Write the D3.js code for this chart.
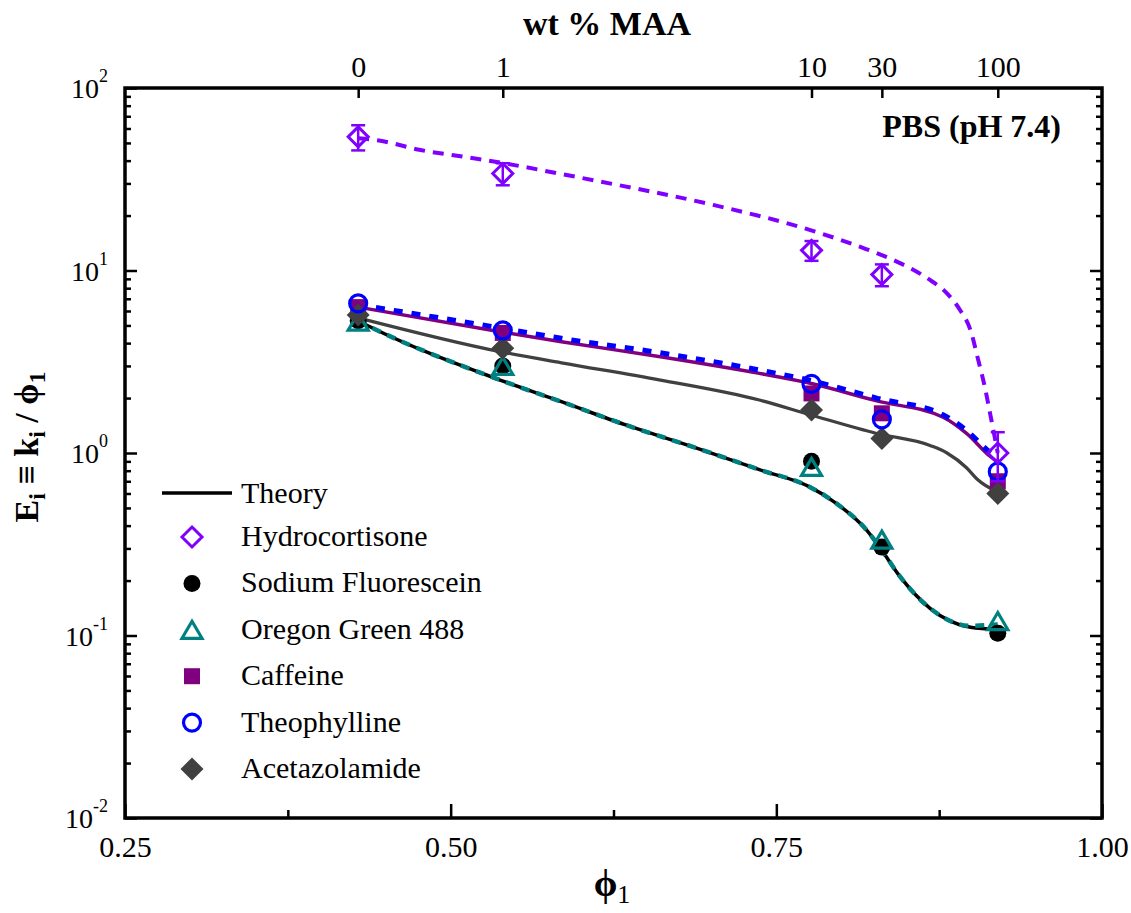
<!DOCTYPE html>
<html>
<head>
<meta charset="utf-8">
<script src="https://cdn.jsdelivr.net/npm/d3@7"></script>
<style>
  html, body { margin: 0; padding: 0; background: #fff; }
  svg { display: block; }
  svg text { font-family: "Liberation Serif", "Times New Roman", serif; }
</style>
</head>
<body>
<svg id="chart" width="1131" height="913"></svg>
<script>
// Volume fraction of water (phi_1) for each hydrogel composition
const phi = [0.429, 0.540, 0.777, 0.831, 0.920];
// Matching methacrylic acid contents (top axis)
const maaLabels = ["0", "1", "10", "30", "100"];

// Measured enhancement factors E_i = k_i / phi_1
const hydrocortisone    = [54, 34, 12.9, 9.5, 1.0];
const hydrocortisoneErr = [8.5, 4.7, 1.6, 1.3, 0.3];
const sodiumFluorescein = [5.3, 3.0, 0.90, 0.305, 0.103];
const oregonGreen       = [5.25, 3.0, 0.84, 0.335, 0.12];
const caffeine          = [6.3, 4.55, 2.12, 1.65, 0.70];
const theophylline      = [6.6, 4.7, 2.39, 1.53, 0.79];
const acetazolamide     = [5.7, 3.75, 1.72, 1.2, 0.60];

// Theory curves, [phi_1, E]
const hydrocortisoneTheory = [
  [0.429, 53], [0.445, 51.5], [0.477, 45.7], [0.510, 42], [0.541, 38.7],
  [0.582, 34.1], [0.615, 30.7], [0.699, 23.1], [0.778, 16.5], [0.814, 13.5],
  [0.840, 11.4], [0.866, 9.06], [0.881, 7.5], [0.891, 6.08], [0.899, 4.72],
  [0.905, 3.23], [0.910, 2.31], [0.914, 1.66], [0.920, 1.0]
];
const caffeineTheory = [
  [0.429, 6.3], [0.538, 4.62], [0.585, 4.07], [0.661, 3.37], [0.737, 2.73],
  [0.776, 2.41], [0.827, 1.93], [0.878, 1.57], [0.896, 1.28], [0.914, 0.96], [0.920, 0.89]
];
const theophyllineTheory = [
  [0.429, 6.5], [0.538, 4.85], [0.585, 4.25], [0.661, 3.54], [0.737, 2.85],
  [0.776, 2.5], [0.827, 2.0], [0.878, 1.62], [0.896, 1.33], [0.914, 1.01], [0.920, 0.94]
];
const acetazolamideTheory = [
  [0.429, 5.5], [0.538, 3.59], [0.585, 3.12], [0.661, 2.51], [0.737, 1.95],
  [0.776, 1.62], [0.827, 1.28], [0.868, 1.1], [0.881, 1.0], [0.896, 0.83],
  [0.904, 0.72], [0.920, 0.61]
];
const sodiumFluoresceinTheory = [
  [0.429, 5.3], [0.438, 4.92], [0.538, 2.51], [0.585, 1.91], [0.635, 1.42],
  [0.686, 1.08], [0.737, 0.81], [0.776, 0.65], [0.796, 0.53], [0.819, 0.38],
  [0.830, 0.30], [0.845, 0.21], [0.868, 0.141], [0.899, 0.111], [0.920, 0.108]
];
const oregonGreenTheory = [
  [0.429, 5.3], [0.438, 4.92], [0.538, 2.51], [0.585, 1.91], [0.635, 1.42],
  [0.686, 1.08], [0.737, 0.81], [0.776, 0.65], [0.796, 0.53], [0.819, 0.38],
  [0.830, 0.30], [0.845, 0.21], [0.868, 0.141], [0.899, 0.113], [0.920, 0.115]
];

// Axis ticks
const xMajorTicks = [0.25, 0.50, 0.75, 1.00];
const xMinorTicks = [0.375, 0.625, 0.875];
const yExponents  = [-2, -1, 0, 1, 2];

// Legend entries
const legendNames = ["Hydrocortisone", "Sodium Fluorescein", "Oregon Green 488",
                     "Caffeine", "Theophylline", "Acetazolamide"];

const C = {
  hydro: "#8000ff", sf: "#000000", og: "#008080",
  caf: "#800080", theo: "#0000ff", acet: "#404040"
};
const SERIF = "'Liberation Serif', 'Times New Roman', serif";

const svg = d3.select("#chart").attr("font-family", SERIF);
const L = 125, R = 1102, T = 88, B = 818;
const x = d3.scaleLinear().domain([0.25, 1.0]).range([L, R]);
const y = d3.scaleLog().domain([0.01, 100]).range([B, T]);

const yMajor = yExponents.map(e => Math.pow(10, e));
const yMinor = [];
for (let e = -2; e < 2; e++) for (let m = 2; m <= 9; m++) yMinor.push(m * Math.pow(10, e));

function styleAxis(g) {
  g.attr("font-family", SERIF);
  g.select(".domain").remove();
  g.selectAll(".tick line").attr("stroke", "#000").attr("stroke-width", 2.5);
  g.selectAll(".tick text").attr("fill", "#000").attr("font-size", 30);
}

// Bottom axis
svg.append("g").attr("transform", `translate(0,${B})`)
  .call(d3.axisBottom(x).tickValues(xMajorTicks).tickSize(-14).tickSizeOuter(0)
    .tickPadding(18).tickFormat(d3.format(".2f")))
  .call(styleAxis);
svg.append("g").attr("transform", `translate(0,${B})`)
  .call(d3.axisBottom(x).tickValues(xMinorTicks).tickSize(-8).tickSizeOuter(0).tickFormat(""))
  .call(styleAxis);

// Top axis: wt % MAA
svg.append("g").attr("transform", `translate(0,${T})`)
  .call(d3.axisTop(x).tickValues(phi).tickSize(-10).tickSizeOuter(0)
    .tickPadding(11).tickFormat((d, i) => maaLabels[i]))
  .call(styleAxis);

// Left axis
const leftMajor = svg.append("g").attr("transform", `translate(${L},0)`)
  .call(d3.axisLeft(y).tickValues(yMajor).tickSize(-12).tickSizeOuter(0).tickFormat(""))
  .call(styleAxis);
leftMajor.selectAll(".tick text").remove();
leftMajor.selectAll(".tick").append("text")
  .attr("x", -17).attr("y", 9.5).attr("text-anchor", "end").attr("fill", "#000")
  .attr("font-size", 28)
  .each(function (d) {
    const t = d3.select(this);
    t.append("tspan").text("10");
    t.append("tspan").attr("font-size", 18).attr("dy", -16).text(Math.round(Math.log10(d)));
  });
svg.append("g").attr("transform", `translate(${L},0)`)
  .call(d3.axisLeft(y).tickValues(yMinor).tickSize(-6).tickSizeOuter(0).tickFormat(""))
  .call(styleAxis);

// Right axis
svg.append("g").attr("transform", `translate(${R},0)`)
  .call(d3.axisRight(y).tickValues(yMajor).tickSize(-12).tickSizeOuter(0).tickFormat(""))
  .call(styleAxis);
svg.append("g").attr("transform", `translate(${R},0)`)
  .call(d3.axisRight(y).tickValues(yMinor).tickSize(-6).tickSizeOuter(0).tickFormat(""))
  .call(styleAxis);

// Frame
svg.append("rect").attr("x", L).attr("y", T).attr("width", R - L).attr("height", B - T)
  .attr("fill", "none").attr("stroke", "#000").attr("stroke-width", 3.5);

// Axis titles
svg.append("text").attr("x", 607).attr("y", 35).attr("text-anchor", "middle")
  .attr("font-size", 34).attr("font-weight", "bold").text("wt % MAA");

const xt = svg.append("text").attr("x", 612).attr("y", 896).attr("text-anchor", "middle")
  .attr("font-size", 38).attr("font-weight", "bold");
xt.append("tspan").text("\u03d5");
xt.append("tspan").attr("font-size", 26).attr("font-weight", "normal").attr("dy", 7).text("1");

const yt = svg.append("text").attr("transform", "translate(38,447) rotate(-90)")
  .attr("text-anchor", "middle").attr("font-size", 34).attr("font-weight", "bold");
yt.append("tspan").text("E");
yt.append("tspan").attr("font-size", 24).attr("dy", 7).text("i");
yt.append("tspan").attr("dy", -7).text(" \u2261 k");
yt.append("tspan").attr("font-size", 24).attr("dy", 7).text("i");
yt.append("tspan").attr("dy", -7).text(" / \u03d5");
yt.append("tspan").attr("font-size", 24).attr("dy", 7).text("1");

svg.append("text").attr("x", 1061).attr("y", 137).attr("text-anchor", "end")
  .attr("font-size", 32).attr("font-weight", "bold").text("PBS (pH 7.4)");

// Theory curves
svg.append("clipPath").attr("id", "plotClip")
  .append("rect").attr("x", L).attr("y", T).attr("width", R - L).attr("height", B - T);
const plot = svg.append("g").attr("clip-path", "url(#plotClip)");
const line = d3.line().x(d => x(d[0])).y(d => y(d[1])).curve(d3.curveMonotoneX);

function drawCurve(data, color, width, dash) {
  plot.append("path").datum(data).attr("d", line)
    .attr("fill", "none").attr("stroke", color).attr("stroke-width", width)
    .attr("stroke-dasharray", dash || null);
}
drawCurve(hydrocortisoneTheory, C.hydro, 4, "11,8");
drawCurve(caffeineTheory, C.caf, 3.5);
drawCurve(theophyllineTheory, C.theo, 5, "9,9");
drawCurve(acetazolamideTheory, C.acet, 3.2);
drawCurve(sodiumFluoresceinTheory, C.sf, 3.5);
drawCurve(oregonGreenTheory, C.og, 4.5, "9,7");

// Marker shapes
function marker(g, type, cx, cy) {
  const s = g.append("path").attr("transform", `translate(${cx},${cy})`);
  switch (type) {
    case "diamondOpen":
      s.attr("d", "M0,-10L10,0L0,10L-10,0Z").attr("fill", "none")
        .attr("stroke", C.hydro).attr("stroke-width", 3); break;
    case "circleFilled":
      s.attr("d", d3.symbol(d3.symbolCircle, Math.PI * 8.5 * 8.5)()).attr("fill", C.sf); break;
    case "triangleOpen":
      s.attr("d", "M0,-8.5L10,8.5L-10,8.5Z").attr("fill", "none")
        .attr("stroke", C.og).attr("stroke-width", 3.2).attr("stroke-linejoin", "miter"); break;
    case "square":
      s.attr("d", "M-8,-8H8V8H-8Z").attr("fill", C.caf); break;
    case "circleOpen":
      s.attr("d", d3.symbol(d3.symbolCircle, Math.PI * 8.5 * 8.5)()).attr("fill", "none")
        .attr("stroke", C.theo).attr("stroke-width", 3.2); break;
    case "diamondFilled":
      s.attr("d", "M0,-11.5L11.5,0L0,11.5L-11.5,0Z").attr("fill", C.acet); break;
  }
}

const pts = svg.append("g");
function drawSeries(values, type) {
  values.forEach((v, i) => marker(pts, type, x(phi[i]), y(v)));
}
drawSeries(sodiumFluorescein, "circleFilled");
drawSeries(oregonGreen, "triangleOpen");
drawSeries(caffeine, "square");
drawSeries(acetazolamide, "diamondFilled");
drawSeries(theophylline, "circleOpen");

// Hydrocortisone error bars
const eb = svg.append("g").attr("stroke", C.hydro).attr("stroke-width", 2.5).attr("fill", "none");
hydrocortisone.forEach((v, i) => {
  const cx = x(phi[i]), y1 = y(v + hydrocortisoneErr[i]), y0 = y(v - hydrocortisoneErr[i]);
  eb.append("line").attr("x1", cx).attr("x2", cx).attr("y1", y1).attr("y2", y0);
  eb.append("line").attr("x1", cx - 7).attr("x2", cx + 7).attr("y1", y1).attr("y2", y1);
  eb.append("line").attr("x1", cx - 7).attr("x2", cx + 7).attr("y1", y0).attr("y2", y0);
});
drawSeries(hydrocortisone, "diamondOpen");

// Legend
const lg = svg.append("g");
lg.append("line").attr("x1", 162).attr("x2", 232).attr("y1", 493).attr("y2", 493)
  .attr("stroke", "#000").attr("stroke-width", 3.5);
lg.append("text").attr("x", 241).attr("y", 503).attr("font-size", 30).text("Theory");
const legendTypes = ["diamondOpen", "circleFilled", "triangleOpen", "square", "circleOpen", "diamondFilled"];
legendNames.forEach((name, i) => {
  const cy = 537 + i * 46.4;
  marker(lg, legendTypes[i], 192, cy);
  lg.append("text").attr("x", 241).attr("y", cy + 9).attr("font-size", 30).text(name);
});
</script>
</body>
</html>
